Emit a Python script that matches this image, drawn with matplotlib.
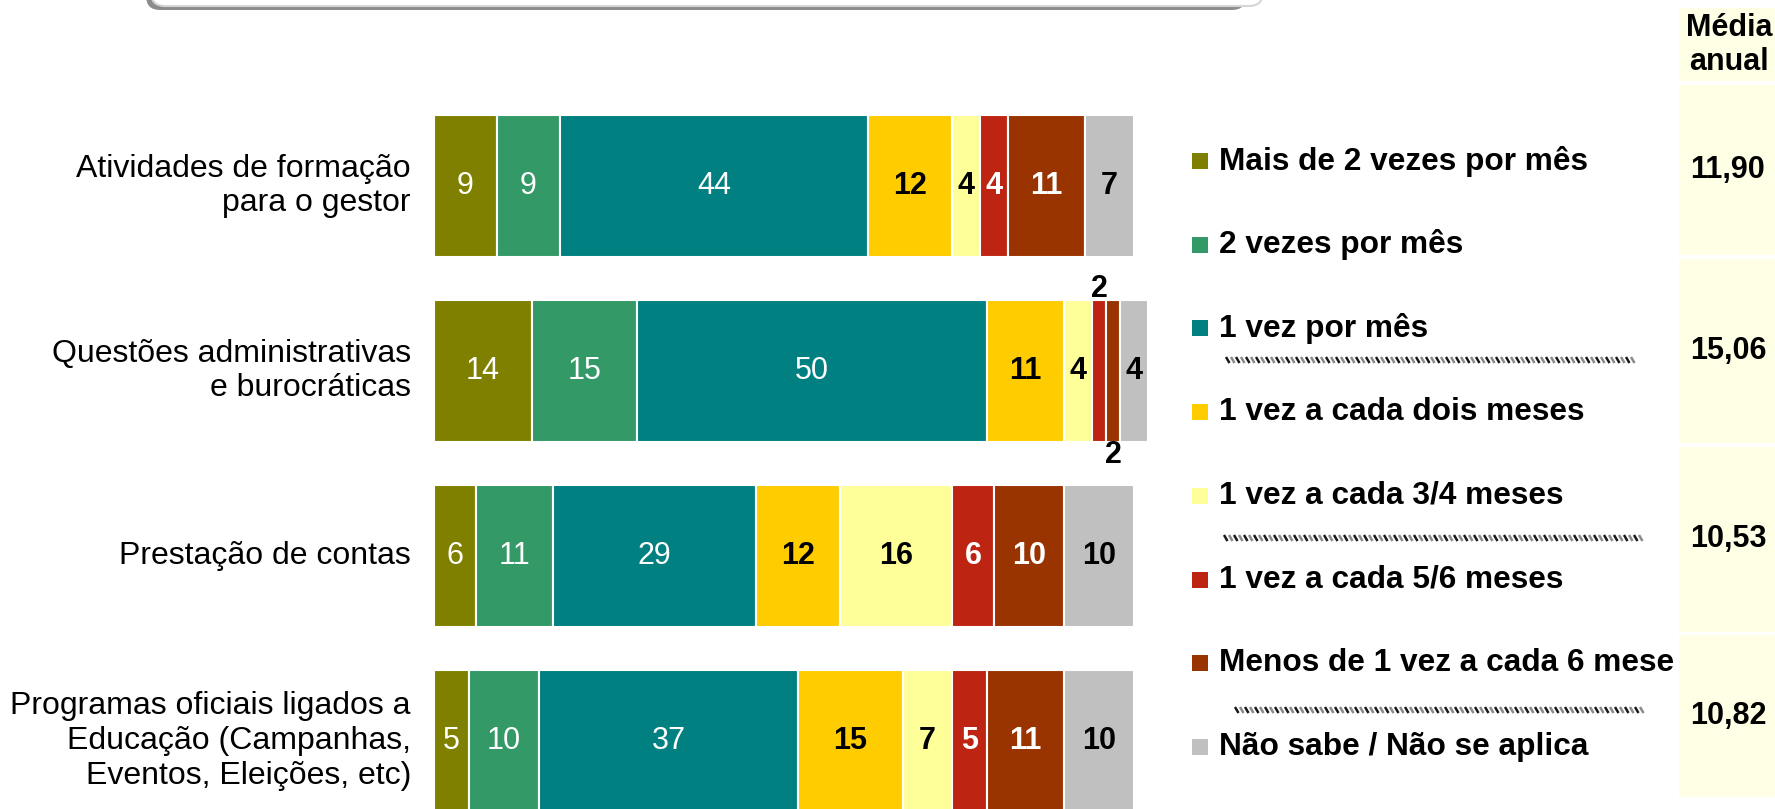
import matplotlib
matplotlib.use("Agg")
import matplotlib.pyplot as plt
import numpy as np
from matplotlib.patches import Rectangle, FancyBboxPatch
from matplotlib.collections import LineCollection

plt.rcParams["font.family"] = ["Liberation Sans", "DejaVu Sans"]

categories = ["Atividades de formação\npara o gestor",
              "Questões administrativas\ne burocráticas",
              "Prestação de contas",
              "Programas oficiais ligados a\nEducação (Campanhas,\nEventos, Eleições, etc)"]
series = ["Mais de 2 vezes por mês", "2 vezes por mês", "1 vez por mês",
          "1 vez a cada dois meses", "1 vez a cada 3/4 meses",
          "1 vez a cada 5/6 meses", "Menos de 1 vez a cada 6 meses",
          "Não sabe / Não se aplica"]
values = np.array([[9, 9, 44, 12, 4, 4, 11, 7],
                   [14, 15, 50, 11, 4, 2, 2, 4],
                   [6, 11, 29, 12, 16, 6, 10, 10],
                   [5, 10, 37, 15, 7, 5, 11, 10]])
media_anual = ["11,90", "15,06", "10,53", "10,82"]

colors = ["#808000", "#339966", "#008080", "#FFCC00",
          "#FFFF99", "#BD2411", "#993300", "#C0C0C0"]
label_colors = ["white", "white", "white", "black", "black", "white", "white", "black"]
label_weights = ["normal"] * 3 + ["bold"] * 5

W, H = 1775, 809
fig = plt.figure(figsize=(W / 100, H / 100), dpi=100)

# pixel-space layer for the legend, side column and frame
bg = fig.add_axes([0, 0, 1, 1])
bg.set_xlim(0, W)
bg.set_ylim(H, 0)
bg.axis("off")

# stacked bars
ax = fig.add_axes([434 / W, 1 - 833.5 / H, 700 / W, 740 / H])
ax.set_xlim(0, 100)
ax.set_ylim(3.5, -0.5)
ax.axis("off")

bar_h = 0.77
rows = np.arange(len(categories))
left = np.zeros(len(categories))
for j, name in enumerate(series):
    bars = ax.barh(rows, values[:, j], left=left, height=bar_h, color=colors[j],
                   edgecolor="white", linewidth=1.5, label=name)
    for b in bars:
        b.set_clip_on(False)
    left += values[:, j]

for i, cat in enumerate(categories):
    ax.text(-3.3, i, cat, ha="right", va="center", fontsize=23)
    start = 0
    flip = 0
    for j, v in enumerate(values[i]):
        xc = start + v / 2
        if v < 3:
            # too narrow: put the number above / below the bar
            if flip == 0:
                ax.text(xc, i - bar_h / 2 - 0.06, str(v), ha="center", va="center",
                        fontsize=22, fontweight="bold", color="black")
            else:
                ax.text(xc, i + bar_h / 2 + 0.07, str(v), ha="center", va="center",
                        fontsize=22, fontweight="bold", color="black")
            flip += 1
        else:
            ax.text(xc, i, str(v), ha="center", va="center", fontsize=22,
                    fontweight=label_weights[j], color=label_colors[j])
        start += v

# legend, cut off where the side column begins
leg_clip = Rectangle((1150, 0), 525, H, transform=bg.transData)
leg_y0, leg_step = 161, 83.7
for k, name in enumerate(series):
    y = leg_y0 + k * leg_step
    bg.add_patch(Rectangle((1192, y - 8), 16, 16, facecolor=colors[k],
                           edgecolor="none", zorder=2))
    t = bg.text(1219, y, name, ha="left", va="center", fontsize=22.8,
                fontweight="bold", zorder=2)
    t.set_clip_on(True)
    t.set_clip_path(leg_clip)

# wavy separators next to the legend
segs, seg_cols = [], []
for x0, x1, y in [(1226, 1636, 360), (1224, 1642, 538), (1235, 1645, 710)]:
    for n, x in enumerate(np.arange(x0, x1, 5)):
        segs.append([(x, y - 3), (x + 3.5, y + 3)])
        seg_cols.append("#1a1a1a" if n % 2 == 0 else "#8a8a8a")
bg.add_collection(LineCollection(segs, colors=seg_cols, linewidths=1.8, zorder=2))

# annual average column
panel_color = "#FFFFE5"
bg.add_patch(Rectangle((1679, 8), 120, 73, facecolor=panel_color,
                       edgecolor="none", zorder=3))
bg.text(1729, 45, "Média\nanual", ha="center", va="center", fontsize=22,
        fontweight="bold", linespacing=1.2, zorder=4)
panels = [(85, 255), (259, 443), (447, 632), (635, 797)]
for (top, bottom), val in zip(panels, media_anual):
    bg.add_patch(Rectangle((1679, top), 120, bottom - top, facecolor=panel_color,
                           edgecolor="none", zorder=3))
    bg.text(1728, (top + bottom) / 2, val, ha="center", va="center",
            fontsize=22, fontweight="bold", zorder=4)

# title frame running off the top edge
bg.add_patch(FancyBboxPatch((146, -60), 1100, 70, boxstyle="round,pad=0,rounding_size=14",
                            facecolor="#8c8c8c", edgecolor="none", zorder=1))
bg.add_patch(FancyBboxPatch((151, -64), 1112, 70, boxstyle="round,pad=0,rounding_size=14",
                            facecolor="white", edgecolor="#d6d6d6", linewidth=1.5, zorder=1))

fig.savefig("out.png", dpi=100)
